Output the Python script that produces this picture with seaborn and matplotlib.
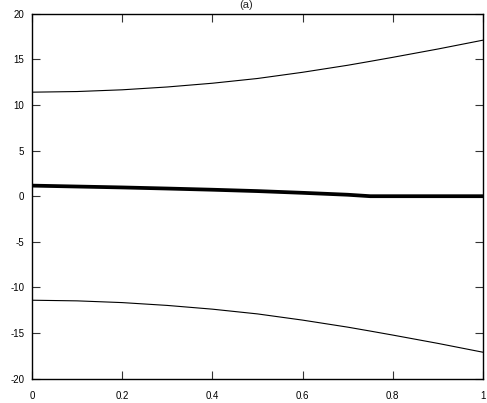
import matplotlib
matplotlib.use("Agg")
import matplotlib.pyplot as plt
import seaborn as sns
import pandas as pd

# sampled positions along the interval
x = [0.0, 0.1, 0.2, 0.3, 0.4, 0.5, 0.6, 0.7, 0.75, 0.8, 0.9, 1.0]
# upper envelope, lower envelope and the central (thick) profile
upper = [11.4, 11.47, 11.66, 11.97, 12.38, 12.9, 13.58, 14.35, 14.78, 15.22, 16.13, 17.1]
lower = [-11.4, -11.47, -11.66, -11.97, -12.38, -12.9, -13.58, -14.35, -14.78, -15.22, -16.13, -17.1]
middle = [1.16, 1.06, 0.96, 0.84, 0.71, 0.56, 0.37, 0.16, 0.0, 0.0, 0.0, 0.0]

x_ticks = [0, 0.2, 0.4, 0.6, 0.8, 1]
x_labels = ["0", "0.2", "0.4", "0.6", "0.8", "1"]
y_ticks = [-20, -15, -10, -5, 0, 5, 10, 15, 20]
y_labels = ["-20", "-15", "-10", "-5", "0", "5", "10", "15", "20"]

sns.set_theme(style="white")
plt.rcParams["font.family"] = ["Liberation Sans", "DejaVu Sans"]
plt.rcParams["axes.unicode_minus"] = False

fig = plt.figure(figsize=(4.87, 4.03), dpi=100)
ax = fig.add_axes([0.0657, 0.0603, 0.9261, 0.9057])

df = pd.DataFrame({"x": x, "upper": upper, "lower": lower, "middle": middle})
sns.lineplot(data=df, x="x", y="upper", ax=ax, color="black", linewidth=0.8)
sns.lineplot(data=df, x="x", y="lower", ax=ax, color="black", linewidth=0.8)
sns.lineplot(data=df, x="x", y="middle", ax=ax, color="black", linewidth=2.7)

ax.set_xlim(0, 1)
ax.set_ylim(-20, 20)
ax.set_xticks(x_ticks)
ax.set_xticklabels(x_labels)
ax.set_yticks(y_ticks)
ax.set_yticklabels(y_labels)
ax.set_xlabel("")
ax.set_ylabel("")

for s in ax.spines.values():
    s.set_color("black")
    s.set_linewidth(1.0)

ax.tick_params(axis="both", which="both", direction="in", length=5.5, width=0.8,
               color="#333333", labelsize=7, labelcolor="black",
               top=True, right=True, bottom=True, left=True)
ax.tick_params(axis="x", pad=8.5)
ax.tick_params(axis="y", pad=5.5)

fig.text(0.505, 0.999, "(a)", ha="center", va="top", fontsize=8)

fig.savefig("out.png", dpi=100)
